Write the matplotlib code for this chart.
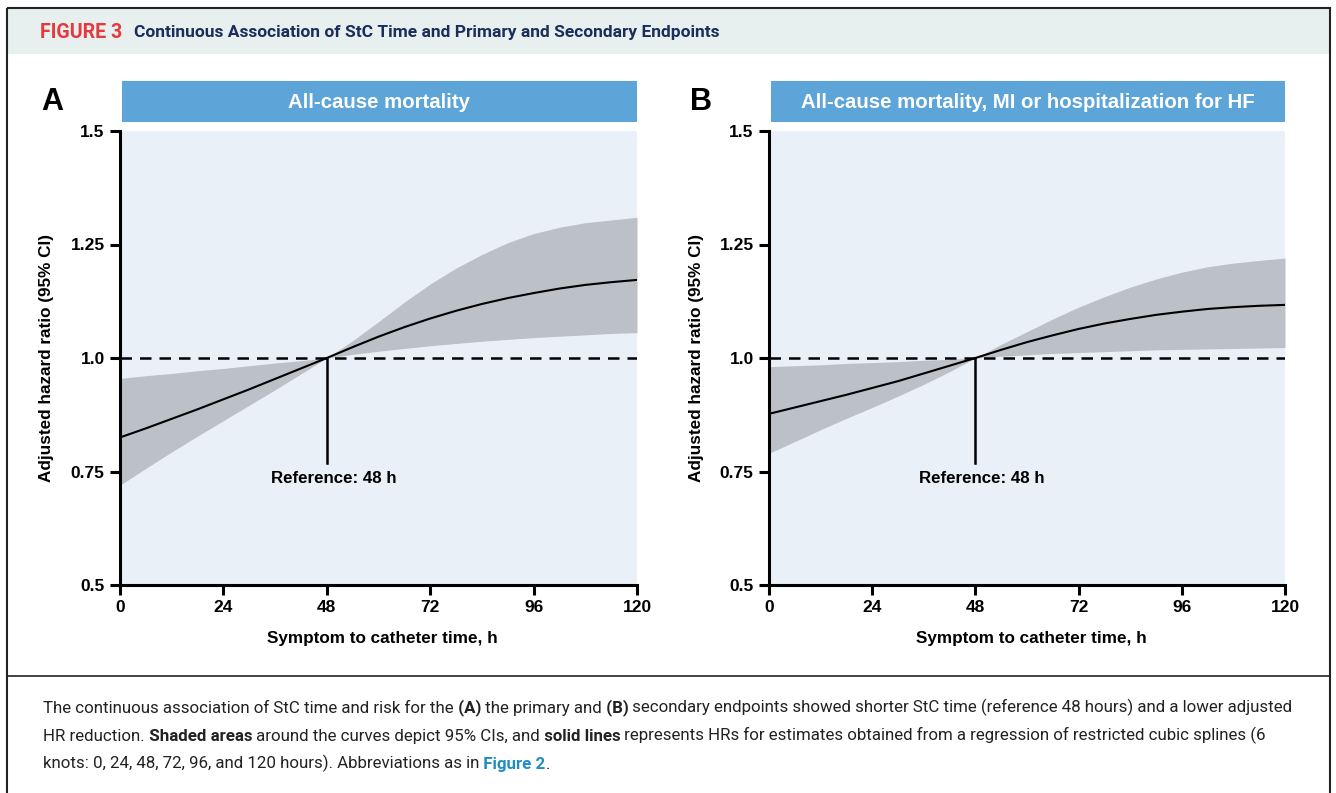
import numpy as np
import matplotlib
matplotlib.use("Agg")
import matplotlib.pyplot as plt
from matplotlib.patches import Rectangle

W, H = 1336, 793

# hours on the x axis
hours = [0, 6, 12, 18, 24, 30, 36, 42, 48, 54, 60, 66, 72, 78, 84, 90, 96, 102, 108, 114, 120]

# Panel A: all-cause mortality (HR and 95% CI)
hr_a = [0.825, 0.845, 0.866, 0.887, 0.909, 0.931, 0.954, 0.977, 1.000, 1.024, 1.047,
        1.068, 1.087, 1.104, 1.119, 1.132, 1.143, 1.153, 1.161, 1.167, 1.172]
hi_a = [0.955, 0.961, 0.966, 0.972, 0.977, 0.983, 0.989, 0.994, 1.000, 1.038, 1.080,
        1.123, 1.163, 1.198, 1.228, 1.254, 1.274, 1.288, 1.298, 1.304, 1.310]
lo_a = [0.720, 0.757, 0.793, 0.828, 0.862, 0.896, 0.930, 0.965, 1.000, 1.008, 1.015,
        1.021, 1.027, 1.032, 1.037, 1.041, 1.045, 1.048, 1.051, 1.054, 1.056]

# Panel B: all-cause mortality, MI or hospitalization for HF
hr_b = [0.877, 0.891, 0.905, 0.919, 0.934, 0.949, 0.966, 0.983, 1.000, 1.018, 1.035,
        1.050, 1.064, 1.076, 1.086, 1.095, 1.102, 1.108, 1.112, 1.115, 1.117]
hi_b = [0.981, 0.983, 0.985, 0.988, 0.990, 0.992, 0.995, 0.997, 1.000, 1.030, 1.058,
        1.086, 1.112, 1.135, 1.156, 1.174, 1.189, 1.201, 1.209, 1.215, 1.220]
lo_b = [0.790, 0.816, 0.842, 0.867, 0.891, 0.916, 0.942, 0.970, 1.000, 1.004, 1.007,
        1.010, 1.012, 1.014, 1.016, 1.018, 1.019, 1.020, 1.021, 1.022, 1.023]

x_ticks = [0, 24, 48, 72, 96, 120]
y_ticks = [0.5, 0.75, 1.0, 1.25, 1.5]
y_tick_labels = ["0.5", "0.75", "1.0", "1.25", "1.5"]
ref_hour = 48

panels = [
    ("A", "All-cause mortality", hr_a, lo_a, hi_a, 120, 637),
    ("B", "All-cause mortality, MI or hospitalization for HF", hr_b, lo_b, hi_b, 769, 1285),
]

BAND = "#bcc0c7"
AXBG = "#e9f0f8"
BAR = "#5da4d8"
NARROW = ["Roboto", "DejaVu Sans"]
ARIAL = ["Liberation Sans", "DejaVu Sans"]
TXT = "#222222"

fig = plt.figure(figsize=(W / 100, H / 100), dpi=100)
renderer = fig.canvas.get_renderer()

# background axes in pixel coordinates for frame, header, caption
bg = fig.add_axes([0, 0, 1, 1])
bg.set_xlim(0, W)
bg.set_ylim(H, 0)
bg.axis("off")


def text_width(s, size, bold, family):
    t = bg.text(0, 0, s, fontsize=size, fontweight="bold" if bold else "normal", family=family)
    w = t.get_window_extent(renderer).width
    t.remove()
    return w


def fit_size(s, target, bold, family, base=12):
    return base * target / text_width(s, base, bold, family)


bg.add_patch(Rectangle((8, 9), 1321, 45, facecolor="#e7f0ef", edgecolor="none"))
bg.add_patch(Rectangle((7, 8), 1323, 800, facecolor="none", edgecolor="#222222", lw=1.5))
bg.plot([7, 1330], [676, 676], color="#222222", lw=1.2)

fig_lab = "FIGURE 3"
head = "Continuous Association of StC Time and Primary and Secondary Endpoints"
bg.text(40, 33, fig_lab, color="#e23a3f", fontsize=fit_size(fig_lab, 82, True, NARROW),
        fontweight="bold", family=NARROW, va="center", ha="left")
bg.text(134, 33, head, color="#1b2d5b", fontsize=fit_size(head, 583, True, NARROW),
        fontweight="bold", family=NARROW, va="center", ha="left")

line1 = [("The continuous association of StC time and risk for the", False, TXT),
         (" (A)", True, TXT),
         (" the primary and", False, TXT),
         (" (B)", True, TXT),
         (" secondary endpoints showed shorter StC time (reference 48 hours) and a lower adjusted", False, TXT)]
line2 = [("HR reduction.", False, TXT),
         (" Shaded areas", True, TXT),
         (" around the curves depict 95% CIs, and", False, TXT),
         (" solid lines", True, TXT),
         (" represents HRs for estimates obtained from a regression of restricted cubic splines (6", False, TXT)]
line3 = [("knots: 0, 24, 48, 72, 96, and 120 hours). Abbreviations as in", False, TXT),
         (" Figure 2", True, "#1f8dc4"),
         (".", False, TXT)]

total1 = sum(text_width(s, 12, b, NARROW) for s, b, c in line1)
cap_size = 12 * 1247 / total1


def runs(parts, x, y, size):
    prev = None
    for s, bold, col in parts:
        kw = dict(fontsize=size, family=NARROW, color=col,
                  fontweight="bold" if bold else "normal", ha="left", va="bottom")
        if prev is None:
            prev = bg.text(x, y, s, **kw)
        else:
            prev = bg.annotate(s, xy=(1, 0), xycoords=prev, **kw)


runs(line1, 43, 716, cap_size)
runs(line2, 43, 744, cap_size)
runs(line3, 43, 772, cap_size)

for letter, title, hr, lo, hi, left, right in panels:
    top, bottom = 131, 585
    ax = fig.add_axes([left / W, 1 - bottom / H, (right - left) / W, (bottom - top) / H])
    ax.set_facecolor(AXBG)
    ax.fill_between(hours, lo, hi, color=BAND, lw=0)
    ax.plot(hours, hr, color="black", lw=1.5)
    ax.axhline(1.0, color="black", lw=1.8, dashes=(4.6, 3.2))
    ax.plot([ref_hour, ref_hour], [0.768, 1.0], color="black", lw=1.8)
    ax.text(ref_hour + 1.5, 0.735, "Reference: 48 h", ha="center", va="center",
            fontsize=12.2, fontweight="bold", family=ARIAL)

    ax.set_xlim(0, 120)
    ax.set_ylim(0.5, 1.5)
    ax.set_xticks(x_ticks)
    ax.set_yticks(y_ticks)
    ax.set_yticklabels(y_tick_labels)
    for s in ["top", "right"]:
        ax.spines[s].set_visible(False)
    for s in ["left", "bottom"]:
        ax.spines[s].set_linewidth(2.2)
        ax.spines[s].set_capstyle("projecting")
    ax.tick_params(direction="out", length=7, width=2.2, labelsize=12.5, pad=4)
    for lab in ax.get_xticklabels() + ax.get_yticklabels():
        lab.set_fontweight("bold")
        lab.set_family(ARIAL)

    # panel title bar
    bg.add_patch(Rectangle((left + 2, 81), right - left - 2, 41, facecolor=BAR, edgecolor="none"))
    bg.text((left + 2 + right) / 2, 102, title, color="white", fontsize=14.7,
            fontweight="bold", family=ARIAL, ha="center", va="center")
    bg.text(left - 68, 102, letter, fontsize=22, fontweight="bold", family=ARIAL,
            ha="center", va="center")
    bg.text(left - 73, 358, "Adjusted hazard ratio (95% CI)", rotation=90, fontsize=12.3,
            fontweight="bold", family=ARIAL, ha="center", va="center")
    bg.text((left + right) / 2 + 4, 638, "Symptom to catheter time, h", fontsize=12.3,
            fontweight="bold", family=ARIAL, ha="center", va="center")

fig.savefig("out.png", dpi=100)
